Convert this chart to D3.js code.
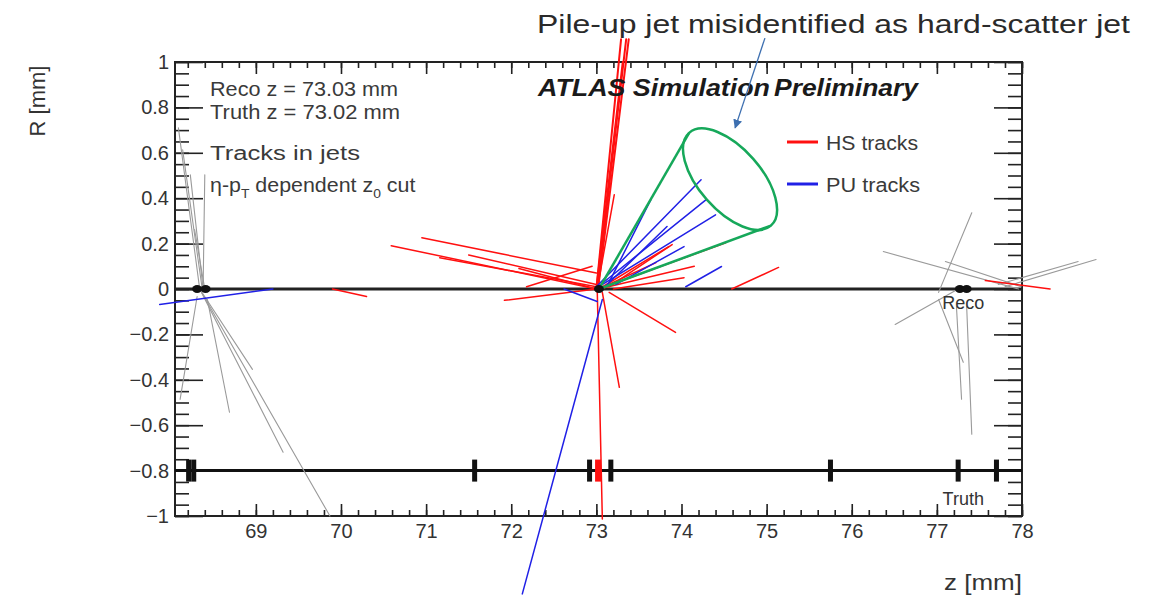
<!DOCTYPE html>
<html>
<head>
<meta charset="utf-8">
<script src="https://cdn.jsdelivr.net/npm/d3@7"></script>
<style>
  body { margin: 0; background: #fff; }
  svg { display: block; }
  text { font-family: "Liberation Sans", Arial, sans-serif; }
</style>
</head>
<body>
<svg width="1152" height="596"></svg>
<script>
// axis ranges and ticks
var zRange = [68.05, 78];
var rRange = [-1, 1];
var zMajor = [69, 70, 71, 72, 73, 74, 75, 76, 77, 78];
var zTickLabels = ["69", "70", "71", "72", "73", "74", "75", "76", "77", "78"];
var rMajor = [1, 0.8, 0.6, 0.4, 0.2, 0, -0.2, -0.4, -0.6, -0.8, -1];
var rTickLabels = ["1", "0.8", "0.6", "0.4", "0.2", "0", "\u22120.2", "\u22120.4", "\u22120.6", "\u22120.8", "\u22121"];

// vertices (z in mm)
var recoVertices = [68.31, 68.41, 73.03, 77.27, 77.35];
var truthVertices = [68.21, 68.27, 71.57, 72.92, 73.17, 75.75, 77.25, 77.7];
var hsTruthVertex = [73.02];
var recoLineR = 0;
var truthLineR = -0.8;

// tracks as [z1, R1, z2, R2]
// the hard-scatter jet going straight up
var hsJetTracks = [
  [73.00, 0, 73.29, 1.10],
  [73.01, 0, 73.35, 1.10],
  [73.02, 0, 73.38, 1.10],
  [73.00, 0, 73.31, 1.00]
];

var hsTracks = [
  [73.01, 0, 73.21, 0.415],
  [70.95, 0.226, 73.0, 0.07],
  [70.59, 0.191, 73.0, 0.0],
  [71.16, 0.138, 73.0, 0.01],
  [71.50, 0.150, 73.0, 0.02],
  [72.18, 0.01, 72.95, 0.10],
  [71.92, -0.05, 73.0, 0.0],
  [72.09, 0.09, 73.0, 0.0],
  [73.03, 0, 73.85, 0.187],
  [73.03, 0, 74.52, 0.204],
  [73.03, 0, 74.15, 0.10],
  [73.15, 0.01, 73.89, 0.196],
  [73.03, 0, 73.70, 0.116],
  [73.20, 0.0, 74.03, 0.05],
  [74.59, 0, 75.14, 0.095],
  [73.15, -0.015, 73.93, -0.191],
  [73.07, -0.015, 73.27, -0.433],
  [73.01, 0, 73.07, -1.013],
  [69.90, 0.0, 70.30, -0.033],
  [77.57, 0.037, 78.33, 0.0]
];

var puTracks = [
  [73.07, -0.046, 72.13, -1.343],
  [67.87, -0.068, 69.20, 0.0],
  [72.62, 0.0, 73.01, -0.055],
  [73.00, 0.01, 74.23, 0.481],
  [73.02, 0.01, 74.29, 0.394],
  [73.03, 0.01, 74.40, 0.327],
  [73.15, 0.03, 73.64, 0.394],
  [73.10, 0.01, 73.83, 0.275],
  [73.23, 0.02, 74.03, 0.187],
  [74.05, 0.01, 74.47, 0.099]
];

var otherTracks = [
  [68.09, 0.71, 68.34, 0],
  [68.14, 0.613, 68.37, 0],
  [68.23, 0.503, 68.38, 0],
  [68.40, 0.503, 68.38, 0],
  [68.28, 0.262, 68.40, 0],
  [68.34, 0, 68.96, -0.354],
  [68.34, 0, 69.32, -0.719],
  [68.34, 0, 69.87, -1.0],
  [68.43, -0.046, 68.69, -0.543],
  [68.31, -0.033, 68.11, -0.486],
  [76.37, 0.165, 77.96, 0.0],
  [77.41, 0.336, 77.02, -0.015],
  [76.51, -0.156, 77.25, 0.0],
  [77.10, 0.121, 77.99, 0.01],
  [77.72, 0.02, 78.66, 0.121],
  [77.80, 0.01, 78.87, 0.13],
  [77.02, -0.046, 77.31, -0.323],
  [77.23, -0.077, 77.29, -0.486],
  [77.35, -0.077, 77.41, -0.64]
];

// jet cone: apex and the two ends of the rim ellipse
var coneApex = [73.03, 0];
var coneRim = [[74.09, 0.688], [75.05, 0.279]];
var coneWidth = 0.5;

// annotation arrow [z1, R1, z2, R2]
var arrowPts = [74.98, 1.105, 74.63, 0.71];

var pLeft = 175, pRight = 1022, pTop = 62, pBottom = 516;

var svg = d3.select("svg");

var x = d3.scaleLinear().domain(zRange).range([pLeft, pRight]);
var y = d3.scaleLinear().domain(rRange).range([pBottom, pTop]);

var zMinor = d3.range(68.2, 78.001, 0.2).map(function(d){ return +d.toFixed(2); });
var rMinor = d3.range(-1, 1.001, 0.05).map(function(d){ return +d.toFixed(2); });

// axes (ticks pointing inwards, ROOT style)
function styleAxis(g){
  g.select(".domain").remove();
  g.selectAll(".tick line").attr("stroke", "#222").attr("stroke-width", 1.6);
  g.selectAll(".tick text").attr("fill", "#333").style("font-size", "20px")
    .style("font-family", "'Liberation Sans', Arial, sans-serif");
}

svg.append("g").attr("transform", "translate(0," + pBottom + ")")
  .call(d3.axisBottom(x).tickValues(zMinor).tickSize(-6).tickFormat(""))
  .call(styleAxis);
svg.append("g").attr("transform", "translate(0," + pBottom + ")")
  .call(d3.axisBottom(x).tickValues(zMajor).tickSize(-12).tickPadding(8)
    .tickFormat(function(d, i){ return zTickLabels[i]; }))
  .call(styleAxis);
svg.append("g").attr("transform", "translate(0," + pTop + ")")
  .call(d3.axisTop(x).tickValues(zMinor).tickSize(-6).tickFormat(""))
  .call(styleAxis);
svg.append("g").attr("transform", "translate(0," + pTop + ")")
  .call(d3.axisTop(x).tickValues(zMajor).tickSize(-12).tickFormat(""))
  .call(styleAxis);

svg.append("g").attr("transform", "translate(" + pLeft + ",0)")
  .call(d3.axisLeft(y).tickValues(rMinor).tickSize(-14).tickFormat(""))
  .call(styleAxis);
svg.append("g").attr("transform", "translate(" + pLeft + ",0)")
  .call(d3.axisLeft(y).tickValues(rMajor).tickSize(-28).tickPadding(6)
    .tickFormat(function(d, i){ return rTickLabels[i]; }))
  .call(styleAxis);
svg.append("g").attr("transform", "translate(" + pRight + ",0)")
  .call(d3.axisRight(y).tickValues(rMinor).tickSize(-14).tickFormat(""))
  .call(styleAxis);
svg.append("g").attr("transform", "translate(" + pRight + ",0)")
  .call(d3.axisRight(y).tickValues(rMajor).tickSize(-28).tickFormat(""))
  .call(styleAxis);

// frame
svg.append("rect")
  .attr("x", pLeft).attr("y", pTop)
  .attr("width", pRight - pLeft).attr("height", pBottom - pTop)
  .attr("fill", "none").attr("stroke", "#222").attr("stroke-width", 2);

// reco and truth lines
svg.append("line")
  .attr("x1", pLeft).attr("x2", pRight)
  .attr("y1", y(recoLineR)).attr("y2", y(recoLineR))
  .attr("stroke", "#222").attr("stroke-width", 3);
svg.append("line")
  .attr("x1", pLeft).attr("x2", pRight)
  .attr("y1", y(truthLineR)).attr("y2", y(truthLineR))
  .attr("stroke", "#111").attr("stroke-width", 3);

// tracks
function drawTracks(data, color, width){
  svg.append("g").selectAll("line").data(data).enter().append("line")
    .attr("x1", function(d){ return x(d[0]); })
    .attr("y1", function(d){ return y(d[1]); })
    .attr("x2", function(d){ return x(d[2]); })
    .attr("y2", function(d){ return y(d[3]); })
    .attr("stroke", color).attr("stroke-width", width)
    .attr("stroke-linecap", "round");
}
drawTracks(otherTracks, "#9a9a9a", 1.1);
drawTracks(hsTracks, "#ff1010", 1.5);
drawTracks(hsJetTracks, "#ff1010", 2);
drawTracks(puTracks, "#2020e6", 1.5);

// jet cone
var a = [x(coneApex[0]), y(coneApex[1])];
var p1 = [x(coneRim[0][0]), y(coneRim[0][1])];
var p2 = [x(coneRim[1][0]), y(coneRim[1][1])];
var cx = (p1[0] + p2[0]) / 2, cy = (p1[1] + p2[1]) / 2;
var semiA = Math.hypot(p2[0] - p1[0], p2[1] - p1[1]) / 2;
var ang = Math.atan2(p2[1] - p1[1], p2[0] - p1[0]) * 180 / Math.PI;
var cone = svg.append("g").attr("fill", "none").attr("stroke", "#16a85a").attr("stroke-width", 2.5);
cone.append("line").attr("x1", a[0]).attr("y1", a[1]).attr("x2", p1[0]).attr("y2", p1[1]);
cone.append("line").attr("x1", a[0]).attr("y1", a[1]).attr("x2", p2[0]).attr("y2", p2[1]);
cone.append("ellipse")
  .attr("cx", 0).attr("cy", 0).attr("rx", semiA).attr("ry", semiA * coneWidth)
  .attr("transform", "translate(" + cx + "," + cy + ") rotate(" + ang + ")");

// vertex markers
svg.append("g").selectAll("ellipse").data(recoVertices).enter().append("ellipse")
  .attr("cx", function(d){ return x(d); }).attr("cy", y(recoLineR))
  .attr("rx", 5).attr("ry", 4).attr("fill", "#111");
svg.append("g").selectAll("rect").data(truthVertices).enter().append("rect")
  .attr("x", function(d){ return x(d) - 2.5; }).attr("y", y(truthLineR) - 11)
  .attr("width", 5).attr("height", 22).attr("fill", "#111");
svg.append("g").selectAll("rect").data(hsTruthVertex).enter().append("rect")
  .attr("x", function(d){ return x(d) - 3; }).attr("y", y(truthLineR) - 11)
  .attr("width", 6).attr("height", 22).attr("fill", "#ff1010");

svg.append("text").attr("x", x(77.31)).attr("y", y(recoLineR) + 20)
  .attr("text-anchor", "middle").attr("fill", "#333").style("font-size", "18px").text("Reco");
svg.append("text").attr("x", x(77.31)).attr("y", y(truthLineR) + 34)
  .attr("text-anchor", "middle").attr("fill", "#333").style("font-size", "18px").text("Truth");

// info text
function fitText(sel, len){
  return sel.attr("textLength", len).attr("lengthAdjust", "spacingAndGlyphs");
}
var info = svg.append("g").attr("fill", "#3a3a3a").style("font-size", "20px");
fitText(info.append("text").attr("x", 210).attr("y", 96).text("Reco z = 73.03 mm"), 188);
fitText(info.append("text").attr("x", 210).attr("y", 119).text("Truth z = 73.02 mm"), 190);
fitText(info.append("text").attr("x", 210).attr("y", 160).text("Tracks in jets"), 150);
var eta = info.append("text").attr("transform", "translate(210,192) scale(1.07,1)").style("font-size", "20px");
eta.append("tspan").text("\u03b7-p");
eta.append("tspan").attr("dy", 6).style("font-size", "13px").text("T");
eta.append("tspan").attr("dy", -6).text(" dependent z");
eta.append("tspan").attr("dy", 6).style("font-size", "13px").text("0");
eta.append("tspan").attr("dy", -6).text(" cut");

fitText(svg.append("text").attr("x", 538).attr("y", 96)
  .attr("fill", "#1a1a1a").style("font-size", "24px").style("font-weight", "bold").style("font-style", "italic")
  .text("ATLAS Simulation"), 232);
fitText(svg.append("text").attr("x", 774).attr("y", 96)
  .attr("fill", "#1a1a1a").style("font-size", "24px").style("font-weight", "bold").style("font-style", "italic")
  .text("Preliminary"), 144);

// legend
var legendItems = [["HS tracks", "#ff1010", 92], ["PU tracks", "#2020e6", 94]];
var lg = svg.append("g").selectAll("g").data(legendItems).enter().append("g")
  .attr("transform", function(d, i){ return "translate(787," + (142 + i * 42) + ")"; });
lg.append("line").attr("x1", 0).attr("x2", 31).attr("stroke", function(d){ return d[1]; }).attr("stroke-width", 3);
lg.append("text").attr("x", 39).attr("y", 8).attr("fill", "#3a3a3a").style("font-size", "20px")
  .attr("textLength", function(d){ return d[2]; }).attr("lengthAdjust", "spacingAndGlyphs")
  .text(function(d){ return d[0]; });

// axis titles
svg.append("text").attr("transform", "translate(45,101) rotate(-90)")
  .attr("text-anchor", "middle").attr("fill", "#333").style("font-size", "22px").text("R [mm]");
fitText(svg.append("text").attr("x", pRight).attr("y", 590)
  .attr("text-anchor", "end").attr("fill", "#333").style("font-size", "22px").text("z [mm]"), 78);

// annotation
fitText(svg.append("text").attr("x", 537).attr("y", 33)
  .attr("fill", "#2a2a2a").style("font-size", "26px").text("Pile-up jet misidentified as hard-scatter jet"), 593);
svg.append("defs").append("marker").attr("id", "arr")
  .attr("viewBox", "0 0 10 10").attr("refX", 9).attr("refY", 5)
  .attr("markerWidth", 7).attr("markerHeight", 7).attr("orient", "auto")
  .append("path").attr("d", "M0,0 L10,5 L0,10 z").attr("fill", "#3d6fb0");
svg.append("line")
  .attr("x1", x(arrowPts[0])).attr("y1", y(arrowPts[1]))
  .attr("x2", x(arrowPts[2])).attr("y2", y(arrowPts[3]))
  .attr("stroke", "#3d6fb0").attr("stroke-width", 1.3).attr("marker-end", "url(#arr)");
</script>
</body>
</html>
